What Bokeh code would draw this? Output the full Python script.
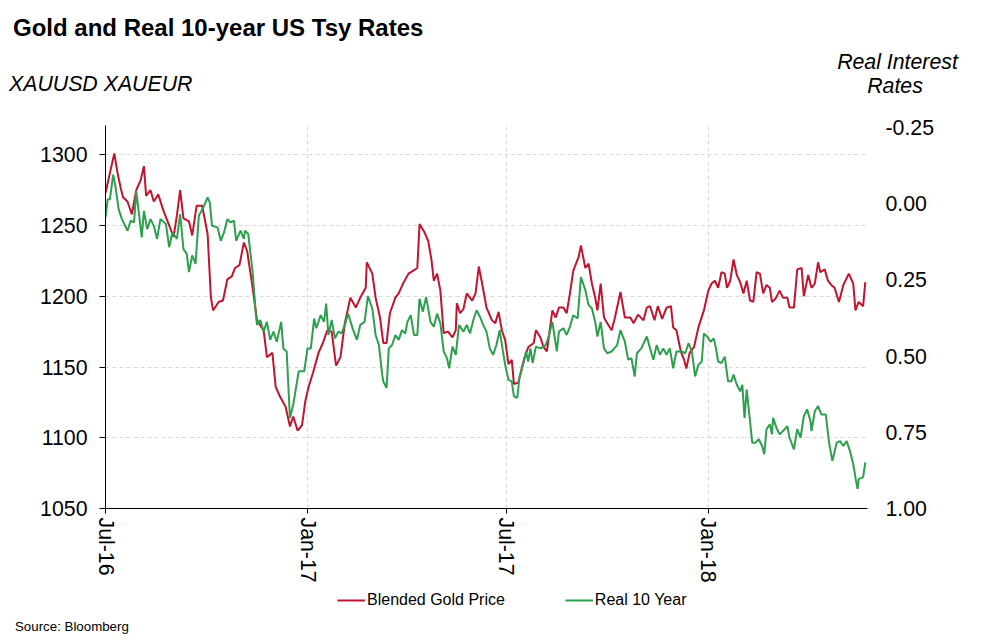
import math
import pandas as pd
from bokeh.plotting import figure
from bokeh.layouts import column
from bokeh.models import (Range1d, LinearAxis, FixedTicker, NumeralTickFormatter,
                          DatetimeTickFormatter, Legend, LegendItem, Div)
from bokeh.embed import file_html
from bokeh.resources import INLINE

# ---------------- data ----------------
start_date = "2016-07-01"          # day 0 of the day offsets below
end_date = "2018-05-26"

# Blended gold price (left axis): day offset from start_date, price
gold_day = [0, 8, 11, 14, 16, 20, 24, 28, 32, 35, 37, 41, 44, 48, 53, 57, 62, 65, 68, 71,
            76, 79, 83, 88, 93, 96, 98, 103, 107, 111, 115, 118, 122, 126, 129, 134, 138, 144, 147, 152,
            155, 159, 164, 168, 171, 175, 179, 182, 185, 189, 194, 198, 202, 206, 210, 214, 218, 223, 228, 232,
            237, 238, 243, 246, 250, 253, 256, 259, 264, 267, 271, 276, 280, 284, 286, 290, 294, 297, 299, 302,
            305, 308, 312, 316, 319, 320, 323, 326, 329, 334, 337, 340, 343, 347, 352, 355, 358, 361, 364, 367,
            370, 372, 376, 381, 385, 390, 392, 396, 399, 402, 407, 410, 413, 417, 420, 423, 426, 431, 433, 437,
            440, 443, 446, 448, 451, 454, 457, 461, 464, 469, 473, 478, 481, 485, 490, 493, 496, 500, 503, 507,
            511, 515, 517, 520, 524, 527, 529, 532, 536, 540, 545, 549, 552, 555, 558, 561, 564, 566, 569, 572,
            575, 578, 581, 584, 587, 590, 593, 596, 599, 602, 605, 607, 610, 614, 617, 621, 623, 627, 630, 634,
            636, 640, 643, 646, 649, 651, 655, 658, 661, 664, 668, 672, 677, 681, 683, 686, 690, 692]
gold_price = [1273, 1301, 1287, 1276, 1270, 1267, 1258, 1275, 1282, 1292, 1271, 1275, 1267, 1272, 1260, 1252, 1242, 1257, 1275, 1255,
              1253, 1243, 1264, 1264, 1244, 1199, 1190, 1196, 1197, 1212, 1214, 1220, 1222, 1238, 1232, 1206, 1183, 1176, 1157, 1160,
              1136, 1129, 1122, 1108, 1115, 1105, 1109, 1126, 1136, 1146, 1160, 1167, 1176, 1175, 1151, 1157, 1181, 1199, 1192, 1199,
              1206, 1224, 1216, 1199, 1185, 1167, 1167, 1188, 1199, 1202, 1209, 1216, 1218, 1220, 1251, 1246, 1239, 1225, 1211, 1216,
              1204, 1174, 1175, 1171, 1176, 1195, 1188, 1191, 1202, 1197, 1202, 1221, 1209, 1192, 1183, 1181, 1189, 1176, 1169, 1152,
              1155, 1138, 1139, 1155, 1164, 1167, 1176, 1171, 1164, 1161, 1190, 1185, 1192, 1192, 1188, 1202, 1218, 1228, 1236, 1220,
              1223, 1209, 1199, 1190, 1209, 1185, 1181, 1176, 1185, 1203, 1185, 1185, 1181, 1187, 1183, 1192, 1193, 1183, 1193, 1184,
              1192, 1193, 1178, 1176, 1161, 1155, 1149, 1160, 1164, 1178, 1190, 1204, 1209, 1211, 1206, 1217, 1216, 1206, 1211, 1226,
              1215, 1210, 1202, 1211, 1197, 1196, 1217, 1216, 1202, 1208, 1206, 1196, 1198, 1204, 1199, 1199, 1192, 1192, 1219, 1220,
              1200, 1215, 1206, 1209, 1224, 1217, 1219, 1211, 1208, 1206, 1196, 1208, 1216, 1209, 1190, 1196, 1193, 1210]

# Real 10-year US Treasury rate (right axis, inverted): day offset, rate %
real_day = [0, 2, 4, 7, 9, 12, 15, 20, 23, 26, 28, 30, 33, 35, 38, 41, 44, 47, 50, 55,
            58, 61, 65, 68, 71, 74, 76, 79, 82, 85, 89, 93, 95, 97, 102, 105, 108, 111, 114, 117,
            119, 123, 126, 127, 130, 134, 137, 138, 141, 144, 147, 150, 153, 156, 160, 162, 165, 168, 171, 176,
            181, 184, 187, 190, 192, 196, 199, 201, 203, 206, 209, 212, 215, 218, 221, 225, 229, 232, 236, 239,
            243, 246, 249, 252, 253, 256, 258, 261, 264, 267, 270, 273, 275, 278, 281, 284, 286, 289, 292, 296,
            299, 302, 305, 308, 311, 313, 316, 319, 322, 326, 329, 332, 335, 338, 341, 344, 347, 350, 353, 356,
            359, 362, 364, 367, 370, 372, 375, 377, 381, 383, 385, 387, 389, 392, 396, 401, 404, 407, 411, 413,
            417, 420, 423, 426, 430, 433, 437, 440, 443, 446, 448, 451, 454, 457, 461, 466, 469, 473, 476, 479,
            482, 484, 488, 493, 496, 499, 502, 505, 508, 511, 514, 517, 520, 525, 528, 531, 534, 537, 540, 543,
            545, 548, 551, 554, 556, 558, 561, 564, 567, 570, 572, 575, 578, 580, 582, 584, 587, 589, 592, 595,
            598, 600, 602, 605, 607, 608, 611, 614, 617, 621, 623, 627, 630, 633, 636, 639, 642, 643, 646, 649,
            652, 656, 659, 662, 666, 669, 672, 675, 678, 681, 683, 685, 686, 690, 692]
real_rate = [0.046, -0.014, -0.014, -0.095, -0.058, 0.019, 0.051, 0.089, 0.056, 0.062, -0.041, 0.019, 0.111, 0.024, 0.084, 0.051, 0.073, 0.116, 0.051, 0.067,
             0.143, 0.094, 0.116, 0.035, 0.149, 0.165, 0.225, 0.170, 0.198, 0.040, 0.013, -0.020, -0.003, 0.073, 0.078, 0.122, 0.094, 0.051, 0.062, 0.056,
             0.122, 0.089, 0.116, 0.089, 0.100, 0.225, 0.366, 0.398, 0.382, 0.420, 0.388, 0.447, 0.420, 0.453, 0.388, 0.475, 0.485, 0.703, 0.659, 0.550,
             0.550, 0.475, 0.475, 0.377, 0.409, 0.366, 0.388, 0.328, 0.431, 0.382, 0.442, 0.420, 0.426, 0.398, 0.361, 0.409, 0.447, 0.398, 0.388, 0.303,
             0.344, 0.431, 0.464, 0.561, 0.583, 0.605, 0.475, 0.464, 0.431, 0.447, 0.415, 0.426, 0.388, 0.366, 0.431, 0.431, 0.312, 0.355, 0.306, 0.388,
             0.404, 0.361, 0.393, 0.485, 0.507, 0.540, 0.469, 0.496, 0.398, 0.420, 0.398, 0.426, 0.382, 0.350, 0.371, 0.398, 0.420, 0.475, 0.496, 0.464,
             0.415, 0.485, 0.529, 0.578, 0.583, 0.632, 0.637, 0.572, 0.518, 0.485, 0.518, 0.475, 0.523, 0.469, 0.475, 0.464, 0.431, 0.388, 0.485, 0.420,
             0.409, 0.431, 0.404, 0.366, 0.377, 0.241, 0.284, 0.333, 0.344, 0.388, 0.436, 0.388, 0.475, 0.491, 0.485, 0.464, 0.415, 0.453, 0.512, 0.507,
             0.567, 0.491, 0.475, 0.436, 0.475, 0.512, 0.464, 0.496, 0.475, 0.496, 0.475, 0.540, 0.485, 0.485, 0.491, 0.458, 0.485, 0.567, 0.529, 0.518,
             0.426, 0.436, 0.453, 0.442, 0.475, 0.518, 0.523, 0.502, 0.583, 0.583, 0.561, 0.594, 0.616, 0.594, 0.703, 0.610, 0.713, 0.784, 0.784, 0.773,
             0.795, 0.822, 0.740, 0.724, 0.757, 0.703, 0.735, 0.757, 0.746, 0.730, 0.768, 0.806, 0.740, 0.768, 0.697, 0.675, 0.713, 0.746, 0.681, 0.664,
             0.692, 0.692, 0.784, 0.844, 0.784, 0.779, 0.795, 0.779, 0.811, 0.854, 0.898, 0.936, 0.903, 0.898, 0.849]

x_tick_dates = ["2016-07-01", "2017-01-01", "2017-07-01", "2018-01-01"]
gold_ticks = [1050, 1100, 1150, 1200, 1250, 1300]
rate_ticks = [-0.25, 0.0, 0.25, 0.5, 0.75, 1.0]
gold_range = (1050, 1320.7)
rate_range = (1.0, -0.256)   # inverted: 1.00 at bottom

title_text = "Gold and Real 10-year US Tsy Rates"
left_title = "XAUUSD XAUEUR"
right_title = ["Real Interest", "Rates"]
source_text = "Source: Bloomberg"
series_names = ["Blended Gold Price", "Real 10 Year"]

# ---------------- chart ----------------
FONT = "Liberation Sans"
RED = "#c0142f"
GREEN = "#2e9e4f"
W = 985
HEADER_H = 110
LEGEND_H = 27
SOURCE_H = 25
MAIN_H = 640 - HEADER_H - LEGEND_H - SOURCE_H   # 478

t0 = pd.Timestamp(start_date)
gold_dates = t0 + pd.to_timedelta(gold_day, unit="D")
real_dates = t0 + pd.to_timedelta(real_day, unit="D")

# ---- main chart ----
p = figure(width=W, height=MAIN_H, x_axis_type="datetime",
           x_range=Range1d(pd.Timestamp(start_date), pd.Timestamp(end_date)),
           y_range=Range1d(*gold_range),
           output_backend="svg", toolbar_location=None,
           min_border_left=105, min_border_right=118,
           min_border_top=15, min_border_bottom=MAIN_H - 15 - 383)
p.outline_line_color = None
p.background_fill_color = "white"
p.border_fill_color = "white"

p.extra_y_ranges = {"rate": Range1d(*rate_range)}

p.line(gold_dates, gold_price, line_color=RED, line_width=2)
p.line(real_dates, real_rate, line_color=GREEN, line_width=2, y_range_name="rate")

xax = p.xaxis[0]
xax.ticker = FixedTicker(ticks=[pd.Timestamp(d).value / 1e6 for d in x_tick_dates])
xax.formatter = DatetimeTickFormatter(days="%b-%y", months="%b-%y", years="%b-%y")
xax.major_label_orientation = -math.pi / 2
xax.major_label_text_font = FONT
xax.major_label_text_font_size = "21.3px"
xax.major_label_text_color = "black"
xax.axis_line_color = "black"
xax.major_tick_line_color = "black"
xax.major_tick_out = 5
xax.major_tick_in = 0
xax.minor_tick_line_color = None
xax.major_label_standoff = 4

yax = p.yaxis[0]
yax.ticker = FixedTicker(ticks=gold_ticks)
yax.major_label_text_font = FONT
yax.major_label_text_font_size = "21.3px"
yax.major_label_text_color = "black"
yax.axis_line_color = "black"
yax.major_tick_line_color = "black"
yax.major_tick_out = 6
yax.major_tick_in = 0
yax.minor_tick_line_color = None
yax.major_label_standoff = 12

rax = LinearAxis(y_range_name="rate", ticker=FixedTicker(ticks=rate_ticks),
                 formatter=NumeralTickFormatter(format="0.00"))
rax.axis_line_color = None
rax.major_tick_line_color = None
rax.minor_tick_line_color = None
rax.major_label_text_font = FONT
rax.major_label_text_font_size = "21.3px"
rax.major_label_text_color = "black"
rax.major_label_standoff = 12
p.add_layout(rax, "right")

for g in (p.xgrid[0], p.ygrid[0]):
    g.grid_line_color = "#d9d9d9"
    g.grid_line_dash = "4 3"
    g.grid_line_width = 1

# ---- legend strip (its frame is aligned with the main frame, 105..867) ----
lf = figure(width=W, height=LEGEND_H, output_backend="svg", toolbar_location=None,
            x_range=Range1d(0, 1), y_range=Range1d(0, 1),
            x_axis_location=None, y_axis_location=None,
            min_border_left=0, min_border_right=0, min_border_top=0, min_border_bottom=0)
lf.outline_line_color = None
lf.xgrid.visible = False
lf.ygrid.visible = False
lf.border_fill_color = "white"
# proxies for the legend: same series, outside this strip's ranges so nothing is drawn
lg_gold = lf.line(gold_dates, gold_price, line_color=RED, line_width=2)
lg_real = lf.line(real_dates, real_rate, line_color=GREEN, line_width=2)
legend = Legend(items=[LegendItem(label=series_names[0], renderers=[lg_gold]),
                       LegendItem(label=series_names[1], renderers=[lg_real])],
                location=(232, 6), orientation="horizontal",
                padding=0, margin=0, spacing=60,
                glyph_width=28, glyph_height=18, label_standoff=2, label_height=18,
                label_text_font=FONT, label_text_font_size="16px", label_text_color="black",
                border_line_color=None, background_fill_alpha=0)
lf.add_layout(legend, "center")

# ---- header / source texts as real HTML text ----
def span(left, top, text, size, weight="normal", style="normal", width=None, align="left"):
    w = f"width:{width}px;" if width else ""
    return (f'<div style="position:absolute;left:{left}px;top:{top}px;{w}text-align:{align};'
            f'font-family:\'{FONT}\';font-size:{size}px;font-weight:{weight};font-style:{style};'
            f'line-height:1;white-space:nowrap;color:#000">{text}</div>')

header_html = ('<div style="position:relative;width:985px;height:%dpx">' % HEADER_H
               + span(13, 16.4, title_text, 24, weight="bold")
               + span(9, 74.3, left_title, 21.3, style="italic")
               + span(817.5, 52, right_title[0], 21.3, style="italic", width=160, align="center")
               + span(815, 76.3, right_title[1], 21.3, style="italic", width=160, align="center")
               + '</div>')
source_html = ('<div style="position:relative;width:985px;height:%dpx">' % SOURCE_H
               + span(15, 5.4, source_text, 13.3)
               + '</div>')

header = Div(text=header_html, width=W, height=HEADER_H, margin=(0, 0, 0, 0))
source = Div(text=source_html, width=W, height=SOURCE_H, margin=(0, 0, 0, 0))

layout = column(header, p, lf, source, spacing=0)

open("out.html", "w").write(file_html(layout, INLINE))
